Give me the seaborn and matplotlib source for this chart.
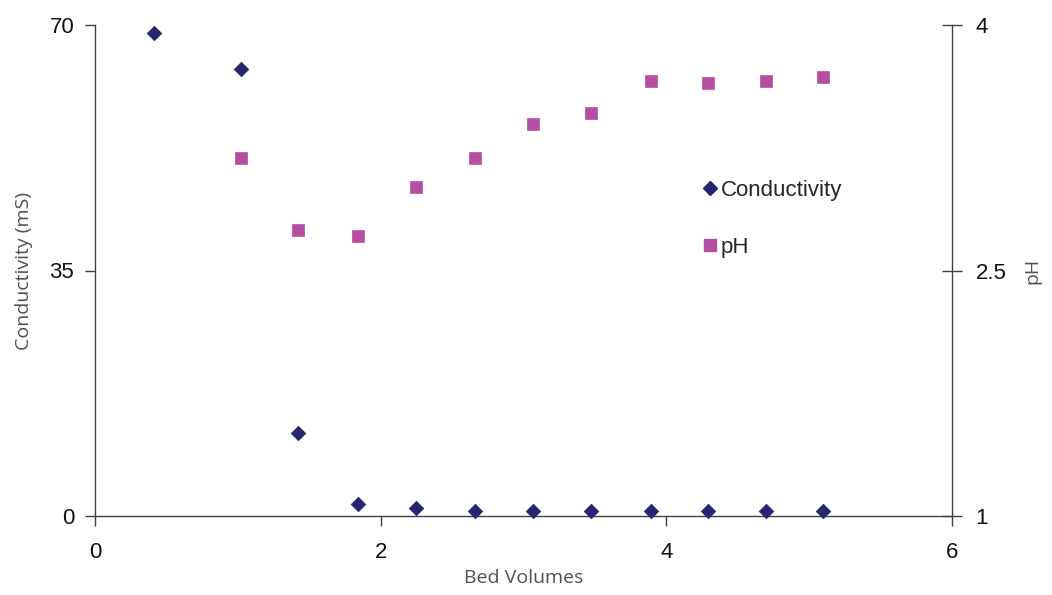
import matplotlib
matplotlib.use("Agg")
import matplotlib.pyplot as plt
import seaborn as sns
import pandas as pd
from matplotlib.lines import Line2D

bed_cond = [0.41, 1.02, 1.42, 1.84, 2.25, 2.66, 3.07, 3.47, 3.89, 4.29, 4.70, 5.10]
conductivity = [68.9, 63.7, 11.8, 1.7, 1.1, 0.7, 0.7, 0.7, 0.7, 0.7, 0.7, 0.7]
bed_ph = [1.02, 1.42, 1.84, 2.25, 2.66, 3.07, 3.47, 3.89, 4.29, 4.70, 5.10]
ph = [3.19, 2.75, 2.71, 3.01, 3.19, 3.395, 3.46, 3.66, 3.645, 3.66, 3.68]

cond_color = "#252570"
ph_color = "#B64FA3"

sns.set_style("white")
plt.rcParams['font.family'] = ['Liberation Sans', 'DejaVu Sans']

fig = plt.figure(figsize=(10.52, 5.95), dpi=100)
ax = fig.add_axes([95/1052, 1-516/595, (952-95)/1052, (516-25)/595])
ax2 = ax.twinx()

df1 = pd.DataFrame({"x": bed_cond, "y": conductivity})
df2 = pd.DataFrame({"x": bed_ph, "y": ph})
sns.scatterplot(data=df1, x="x", y="y", ax=ax, marker="D", s=55, color=cond_color,
                edgecolor=cond_color, linewidth=0.5, zorder=3, clip_on=False)
sns.scatterplot(data=df2, x="x", y="y", ax=ax2, marker="s", s=85, color=ph_color,
                edgecolor=ph_color, linewidth=0.5, zorder=3, clip_on=False)

ax.set_xlim(0, 6)
ax.set_ylim(0, 70)
ax2.set_ylim(1, 4)
ax.set_xticks([0, 2, 4, 6])
ax.set_yticks([0, 35, 70])
ax2.set_yticks([1, 2.5, 4])
ax2.set_yticklabels(["1", "2.5", "4"])

for a in (ax, ax2):
    for sp in a.spines.values():
        sp.set_visible(False)
ax.spines['left'].set_visible(True)
ax.spines['bottom'].set_visible(True)
ax2.spines['right'].set_visible(True)
for sp in [ax.spines['left'], ax.spines['bottom'], ax2.spines['right']]:
    sp.set_color("#404040")
    sp.set_linewidth(1.0)

ax.tick_params(axis='x', direction='out', length=7, width=1, color="#404040",
               labelsize=16, pad=12, bottom=True, labelcolor="#111111")
ax.tick_params(axis='y', direction='out', length=7, width=1, color="#404040",
               labelsize=16, pad=8, left=True, labelcolor="#111111")
ax2.tick_params(axis='y', direction='inout', length=14, width=1, color="#404040",
                labelsize=16, pad=10, right=True, labelcolor="#111111")

lab_font = dict(family=['Open Sans', 'DejaVu Sans'], size=14, color="#505050")
ax.set_xlabel("Bed Volumes", labelpad=4, **lab_font)
ax.set_ylabel("Conductivity (mS)", labelpad=12, **lab_font)
ax2.set_ylabel("pH", labelpad=12, rotation=90, **lab_font)

handles = [
    Line2D([], [], linestyle='none', marker='D', markersize=7.5, color=cond_color),
    Line2D([], [], linestyle='none', marker='s', markersize=9, color=ph_color),
]
fig.legend(handles, ["Conductivity", "pH"], loc='upper left',
           bbox_to_anchor=(692/1052, 1-169/595), frameon=False, fontsize=16,
           handlelength=0.6, handletextpad=0.2, labelspacing=1.6, borderpad=0)

fig.savefig("out.png", dpi=100)
